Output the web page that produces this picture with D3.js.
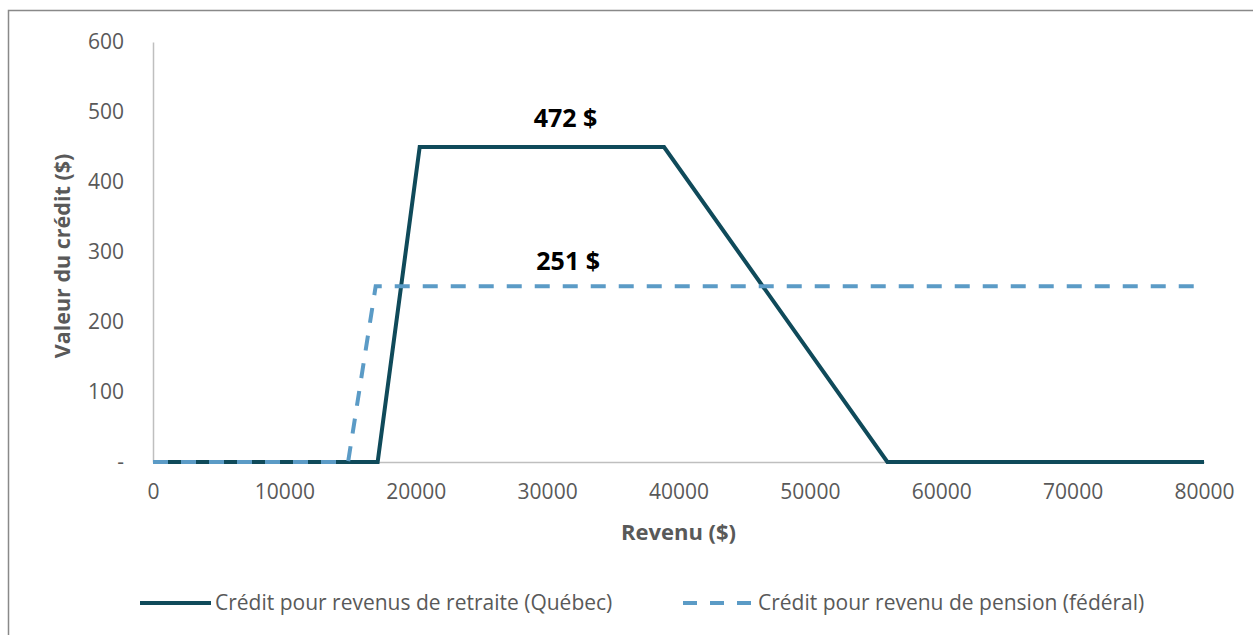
<!DOCTYPE html>
<html>
<head>
<meta charset="utf-8">
<script src="https://cdn.jsdelivr.net/npm/d3@7"></script>
<style>
  body { margin: 0; background: #fff; }
  svg { display: block; font-family: "Open Sans", sans-serif; }
  .domain { stroke: #bfbfbf; stroke-width: 1.5px; }
  .tick text { fill: #595959; font-size: 21px; }
</style>
</head>
<body>
<script>
const quebecRevenu = [0, 17100, 20300, 38900, 55900, 80000];
const quebecCredit = [0, 0, 450, 450, 0, 0];
const federalRevenu = [0, 14850, 16950, 80000];
const federalCredit = [0, 0, 251, 251];
const xTicks = [0, 10000, 20000, 30000, 40000, 50000, 60000, 70000, 80000];
const yTicks = [0, 100, 200, 300, 400, 500, 600];
const seriesNames = ['Crédit pour revenus de retraite (Québec)', 'Crédit pour revenu de pension (fédéral)'];
const valueLabels = ['472 $', '251 $'];

const width = 1253;
const height = 635;
const padding = { top: 42, right: 49, bottom: 173, left: 153 };

const svg = d3.select('body')
  .append('svg')
  .attr('width', width)
  .attr('height', height);

// outer frame (right and bottom edges fall outside the picture)
svg.append('rect')
  .attr('x', 8.5)
  .attr('y', 10.5)
  .attr('width', width + 20)
  .attr('height', height + 20)
  .style('fill', 'none')
  .style('stroke', '#898989')
  .style('stroke-width', 1.5);

const xScale = d3.scaleLinear()
  .domain([0, 80000])
  .range([padding.left, width - padding.right]);

const yScale = d3.scaleLinear()
  .domain([0, 600])
  .range([462, padding.top]);

const xAxis = d3.axisBottom(xScale)
  .tickValues(xTicks)
  .tickSize(0)
  .tickPadding(22)
  .tickFormat((d) => d);

const yAxis = d3.axisLeft(yScale)
  .tickValues(yTicks)
  .tickSize(0)
  .tickPadding(29)
  .tickFormat((d) => d === 0 ? '-' : d);

svg.append('g')
  .attr('class', 'y-axis')
  .attr('transform', 'translate(' + padding.left + ',0)')
  .call(yAxis)
  .attr('font-family', null)
  .attr('font-size', null);

svg.append('g')
  .attr('class', 'x-axis')
  .attr('transform', 'translate(0,' + yScale(0) + ')')
  .call(xAxis)
  .attr('font-family', null)
  .attr('font-size', null);

// axis titles
svg.append('text')
  .attr('x', (xScale(0) + xScale(80000)) / 2)
  .attr('y', 540)
  .style('text-anchor', 'middle')
  .style('font-size', '22px')
  .style('font-weight', 'bold')
  .style('fill', '#595959')
  .text('Revenu ($)');

svg.append('text')
  .attr('transform', 'translate(70,256) rotate(-90)')
  .style('text-anchor', 'middle')
  .style('font-size', '21.5px')
  .style('font-weight', 'bold')
  .style('fill', '#595959')
  .text('Valeur du crédit ($)');

const line = d3.line()
  .x((d) => xScale(d[0]))
  .y((d) => yScale(d[1]));

const quebec = quebecRevenu.map((r, i) => [r, quebecCredit[i]]);
const federal = federalRevenu.map((r, i) => [r, federalCredit[i]]);

svg.append('path')
  .datum(quebec)
  .attr('d', line)
  .style('fill', 'none')
  .style('stroke', '#0f4a5a')
  .style('stroke-width', 4);

svg.append('path')
  .datum(federal)
  .attr('d', line)
  .style('fill', 'none')
  .style('stroke', '#5b9bc6')
  .style('stroke-width', 4)
  .style('stroke-dasharray', '15,13');

// value labels
svg.append('text')
  .attr('x', xScale(31400))
  .attr('y', yScale(450) - 20)
  .style('text-anchor', 'middle')
  .style('font-size', '25px')
  .style('font-weight', 'bold')
  .style('fill', '#000')
  .text(valueLabels[0]);

svg.append('text')
  .attr('x', xScale(31600))
  .attr('y', yScale(251) - 16)
  .style('text-anchor', 'middle')
  .style('font-size', '25px')
  .style('font-weight', 'bold')
  .style('fill', '#000')
  .text(valueLabels[1]);

// legend
const legendItems = [
  { name: seriesNames[0], color: '#0f4a5a', dash: null, x: 140 },
  { name: seriesNames[1], color: '#5b9bc6', dash: '15,13', x: 683 }
];

const legend = svg.append('g')
  .selectAll('g')
  .data(legendItems)
  .enter()
  .append('g')
  .attr('transform', (d) => 'translate(' + d.x + ',603)');

legend.append('line')
  .attr('x1', 0)
  .attr('x2', 71)
  .style('stroke', (d) => d.color)
  .style('stroke-width', 4)
  .style('stroke-dasharray', (d) => d.dash ? '14,13' : null);

legend.append('text')
  .attr('x', 75)
  .attr('dy', '0.35em')
  .style('font-size', '21px')
  .style('fill', '#595959')
  .text((d) => d.name);
</script>
</body>
</html>
